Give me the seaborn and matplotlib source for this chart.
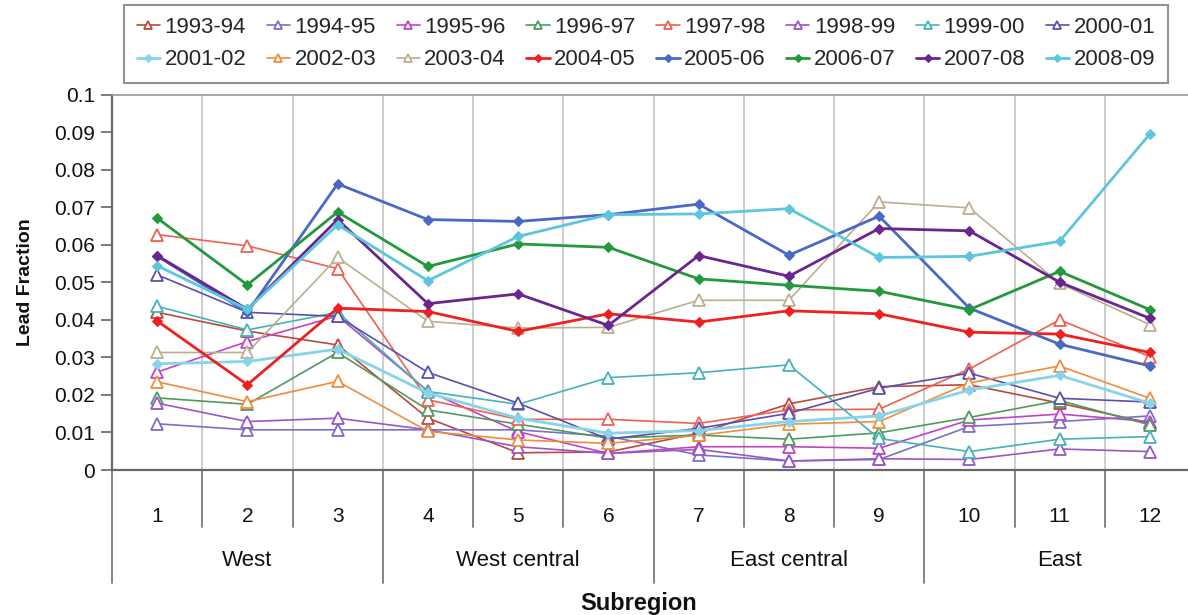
import numpy as np
import pandas as pd
import matplotlib
matplotlib.use("Agg")
import matplotlib.pyplot as plt
import seaborn as sns
from matplotlib.transforms import blended_transform_factory

# ---------------- data ----------------
subregions = list(range(1, 13))
tick_labels = [str(s) for s in subregions]
region_names = ["West", "West central", "East central", "East"]
region_centers = [2, 5, 8, 11]

years = ["1993-94", "1994-95", "1995-96", "1996-97", "1997-98", "1998-99",
         "1999-00", "2000-01", "2001-02", "2002-03", "2003-04", "2004-05",
         "2005-06", "2006-07", "2007-08", "2008-09"]

y1993_94 = [0.0420, 0.0370, 0.0333, 0.0138, 0.0046, 0.0048, 0.0098, 0.0176, 0.0222, 0.0227, 0.0178, 0.0125]
y1994_95 = [0.0123, 0.0107, 0.0107, 0.0107, 0.0107, 0.0090, 0.0040, 0.0024, 0.0028, 0.0116, 0.0129, 0.0144]
y1995_96 = [0.0261, 0.0342, 0.0410, 0.0210, 0.0102, 0.0044, 0.0062, 0.0062, 0.0058, 0.0133, 0.0149, 0.0129]
y1996_97 = [0.0192, 0.0175, 0.0313, 0.0160, 0.0122, 0.0085, 0.0093, 0.0082, 0.0099, 0.0140, 0.0185, 0.0120]
y1997_98 = [0.0627, 0.0597, 0.0536, 0.0187, 0.0135, 0.0135, 0.0124, 0.0160, 0.0162, 0.0269, 0.0400, 0.0302]
y1998_99 = [0.0178, 0.0129, 0.0138, 0.0107, 0.0062, 0.0044, 0.0055, 0.0024, 0.0030, 0.0028, 0.0056, 0.0049]
y1999_00 = [0.0436, 0.0373, 0.0420, 0.0209, 0.0175, 0.0246, 0.0259, 0.0280, 0.0084, 0.0049, 0.0082, 0.0089]
y2000_01 = [0.0520, 0.0420, 0.0409, 0.0260, 0.0178, 0.0082, 0.0111, 0.0151, 0.0218, 0.0258, 0.0191, 0.0181]
y2001_02 = [0.0283, 0.0289, 0.0322, 0.0205, 0.0138, 0.0098, 0.0105, 0.0129, 0.0144, 0.0213, 0.0252, 0.0178]
y2002_03 = [0.0235, 0.0182, 0.0236, 0.0103, 0.0080, 0.0071, 0.0092, 0.0122, 0.0129, 0.0232, 0.0277, 0.0191]
y2003_04 = [0.0313, 0.0313, 0.0566, 0.0396, 0.0378, 0.0380, 0.0452, 0.0452, 0.0714, 0.0698, 0.0497, 0.0387]
y2004_05 = [0.0397, 0.0227, 0.0431, 0.0422, 0.0369, 0.0416, 0.0394, 0.0424, 0.0416, 0.0367, 0.0362, 0.0313]
y2005_06 = [0.0570, 0.0420, 0.0762, 0.0667, 0.0662, 0.0680, 0.0708, 0.0572, 0.0676, 0.0431, 0.0335, 0.0277]
y2006_07 = [0.0671, 0.0493, 0.0687, 0.0542, 0.0602, 0.0593, 0.0509, 0.0492, 0.0476, 0.0427, 0.0529, 0.0427]
y2007_08 = [0.0571, 0.0428, 0.0667, 0.0443, 0.0469, 0.0385, 0.0571, 0.0516, 0.0643, 0.0637, 0.0500, 0.0404]
y2008_09 = [0.0544, 0.0428, 0.0653, 0.0504, 0.0622, 0.0680, 0.0682, 0.0696, 0.0566, 0.0569, 0.0609, 0.0895]

series_values = [y1993_94, y1994_95, y1995_96, y1996_97, y1997_98, y1998_99,
                 y1999_00, y2000_01, y2001_02, y2002_03, y2003_04, y2004_05,
                 y2005_06, y2006_07, y2007_08, y2008_09]

colors = ["#b8493c", "#7a70c8", "#c144c4", "#4f9a5e", "#ee6150", "#9a55c8",
          "#45b2b8", "#5a4fae", "#86d4ea", "#f08c3c", "#bcae8e", "#ee2020",
          "#4a68c4", "#23993c", "#6a2590", "#5cc6dc"]
filled = [False] * 8 + [True, False, False, True, True, True, True, True]

rows = []
for yr, vals in zip(years, series_values):
    for s, v in zip(subregions, vals):
        rows.append({"Year": yr, "Subregion": s, "Lead Fraction": v})
df = pd.DataFrame(rows)

# ---------------- style ----------------
sns.set_theme(style="white")
plt.rcParams["font.family"] = ["Liberation Sans", "DejaVu Sans"]

W, H = 1188, 615
fig = plt.figure(figsize=(W / 100, H / 100), dpi=100)
ax_left, ax_right, ax_top, ax_bot = 112, 1195, 94.5, 470
ax = fig.add_axes([ax_left / W, 1 - ax_bot / H, (ax_right - ax_left) / W, (ax_bot - ax_top) / H])

for i, (yr, col, fl) in enumerate(zip(years, colors, filled)):
    sub = df[df["Year"] == yr]
    if fl:
        kw = dict(marker="D", markersize=5.5, markerfacecolor=col, markeredgecolor=col,
                  linewidth=2.0, zorder=4 + i * 0.01)
    else:
        kw = dict(marker="^", markersize=8, markerfacecolor="white", markeredgecolor=col,
                  markeredgewidth=1.3, linewidth=1.2, zorder=3 + i * 0.01)
    sns.lineplot(data=sub, x="Subregion", y="Lead Fraction", color=col, label=yr,
                 estimator=None, errorbar=None, ax=ax, **kw)

if ax.get_legend() is not None:
    ax.get_legend().remove()

ax.set_xlim(0.5, 12.5)
ax.set_ylim(0, 0.1)

# y axis
yt = np.round(np.arange(0, 0.1001, 0.01), 2)
ax.set_yticks(yt)
ax.set_yticklabels(["0"] + [f"{v:g}" for v in yt[1:]], fontsize=15, color="#111111")
ax.tick_params(axis="y", direction="out", length=8, width=1.2, color="#666666", pad=4, left=True)

# x axis (category labels inside a banded two-level axis)
ax.set_xticks(subregions)
ax.set_xticklabels(tick_labels, fontsize=15, color="#111111")
ax.tick_params(axis="x", length=0, pad=27)
ax.set_xticks([s + 0.5 for s in subregions[:-1]], minor=True)
ax.grid(True, axis="x", which="minor", color="#c8c8c8", linewidth=1.3)
ax.grid(False, axis="y")
ax.tick_params(axis="x", which="minor", length=0)

for side in ["left", "bottom"]:
    ax.spines[side].set_color("#666666")
    ax.spines[side].set_linewidth(1.6)
ax.spines["top"].set_color("#9a9a9a")
ax.spines["top"].set_linewidth(1.2)
ax.spines["right"].set_visible(False)

trans = blended_transform_factory(ax.transData, ax.transAxes)
axh = ax_bot - ax_top
short = -57 / axh
long_ = -113 / axh
for b in np.arange(0.5, 12.5, 1.0):
    is_group = b in (0.5, 3.5, 6.5, 9.5)
    ax.plot([b, b], [0, long_ if is_group else short], transform=trans,
            color="#7a7a7a", linewidth=1.3, clip_on=False)
for name, c in zip(region_names, region_centers):
    ax.text(c, -91 / axh, name, transform=trans, ha="center", va="center",
            fontsize=16, color="#111111")

ax.set_xlabel("Subregion", fontsize=17, fontweight="bold", color="#111111")
ax.xaxis.set_label_coords((639 - ax_left) / (ax_right - ax_left), -122 / axh)
ax.set_ylabel("Lead Fraction", fontsize=14, fontweight="bold", color="#111111")
ax.yaxis.set_label_coords((34 - ax_left) / (ax_right - ax_left), 0.5)

# legend: 2 rows x 8 columns, filled row by row
handles, labels = ax.get_legend_handles_labels()
order = []
for c in range(8):
    order += [c, c + 8]
leg = fig.legend([handles[i] for i in order], [labels[i] for i in order],
                 ncol=8, loc="upper center", bbox_to_anchor=(646 / W, 1 - 5 / H),
                 borderaxespad=0, fontsize=16, frameon=True, fancybox=False,
                 handlelength=1.05, handletextpad=0.2, columnspacing=0.92,
                 labelspacing=0.5, borderpad=0.55, markerscale=0.8)
leg.get_frame().set_edgecolor("#777777")
leg.get_frame().set_linewidth(1.5)

fig.savefig("out.png", dpi=100)
